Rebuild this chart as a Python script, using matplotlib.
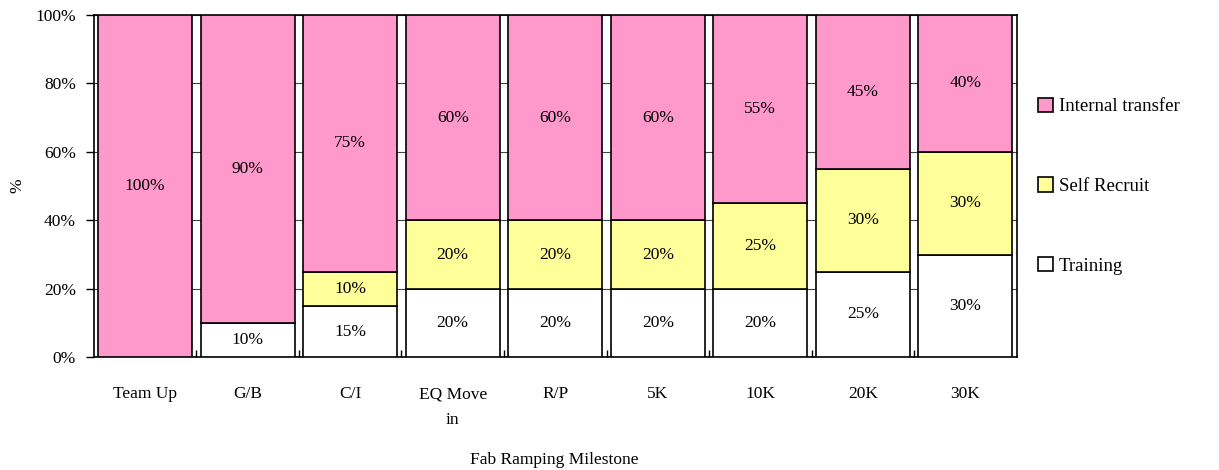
import matplotlib.pyplot as plt
import numpy as np

MILESTONES = ["Team Up", "G/B", "C/I", "EQ Move\nin", "R/P", "5K", "10K", "20K", "30K"]
TRAINING = [0, 10, 15, 20, 20, 20, 20, 25, 30]
SELF_RECRUIT = [0, 0, 10, 20, 20, 20, 25, 30, 30]
INTERNAL = [100, 90, 75, 60, 60, 60, 55, 45, 40]

COLORS = {"Training": "#FFFFFF", "Self Recruit": "#FFFF99", "Internal transfer": "#FF99CC"}
FS = 12.5

plt.rcParams["font.family"] = ["Liberation Serif", "DejaVu Serif"]

fig = plt.figure(figsize=(12.19, 4.70), dpi=100)
ax = fig.add_axes([0.077, 0.240, 0.757, 0.728])

x = np.arange(len(MILESTONES))
width = 0.915
bottom = np.zeros(len(x))
series = [("Training", TRAINING), ("Self Recruit", SELF_RECRUIT), ("Internal transfer", INTERNAL)]
handles = {}
for name, vals in series:
    vals = np.array(vals, dtype=float)
    bars = ax.bar(x, vals, width, bottom=bottom, color=COLORS[name],
                  edgecolor="black", linewidth=1.2, zorder=3, label=name)
    handles[name] = bars
    for xi, b, v in zip(x, bottom, vals):
        if v > 0:
            ax.text(xi, b + v / 2, f"{int(v)}%", ha="center", va="center",
                    fontsize=FS, zorder=4)
    bottom += vals

ax.set_xlim(-0.5, len(x) - 0.5)
ax.set_ylim(0, 100)
ax.set_yticks(np.arange(0, 101, 20))
ax.set_yticklabels([f"{v}%" for v in range(0, 101, 20)], fontsize=FS)
ax.yaxis.grid(True, color="#444444", linewidth=0.8, zorder=0)
ax.tick_params(axis="y", direction="out", length=6, width=1, pad=7)

ax.set_xticks(x)
ax.set_xticklabels(MILESTONES, fontsize=FS, linespacing=1.8, va="top")
ax.set_xticks(np.arange(0.5, len(x) - 0.5), minor=True)
ax.tick_params(axis="x", which="major", length=0, pad=21)
ax.tick_params(axis="x", which="minor", direction="in", length=5, width=1)

for s in ax.spines.values():
    s.set_linewidth(1.2)

# axis titles placed in figure coords (the reference puts them very close to the edges)
fig.text(0.455, 0.022, "Fab Ramping Milestone", ha="center", va="center", fontsize=FS)
fig.text(0.014, 0.605, "%", ha="center", va="center", rotation=90, fontsize=FS)

order = ["Internal transfer", "Self Recruit", "Training"]
leg = ax.legend([handles[n] for n in order], order, loc="center left",
                bbox_to_anchor=(1.005, 0.5), frameon=False, fontsize=13.5,
                handlelength=0.8, handleheight=0.8, handletextpad=0.3,
                labelspacing=3.3)

fig.savefig("out.png", dpi=100)
